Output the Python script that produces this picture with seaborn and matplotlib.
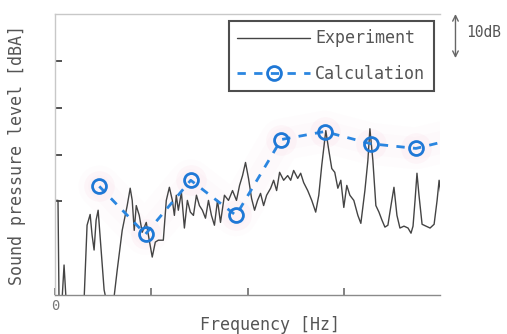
import matplotlib
matplotlib.use("Agg")
import matplotlib.pyplot as plt
import seaborn as sns
import pandas as pd

# Measured spectrum (frequency in Hz, level in dB)
exp_freq = [0, 3.1, 4.2, 7.3, 9.4, 11.5, 30.2, 33.3, 36.5, 38.5, 40.6, 42.7, 44.8, 47.9,
            51.0, 54.2, 60.4, 64.6, 69.8, 75.0, 78.1, 80.2, 82.3, 84.4, 87.5, 90.6, 94.8,
            97.9, 101.0, 104.2, 107.3, 112.5, 115.6, 118.8, 121.9, 124.0, 126.0, 128.1,
            131.3, 134.4, 137.5, 140.6, 143.8, 146.9, 150.0, 153.1, 156.3, 159.4, 162.5,
            165.6, 168.8, 171.9, 176.0, 180.2, 184.4, 188.5, 191.7, 194.8, 197.9, 201.0,
            204.2, 207.3, 210.4, 213.5, 216.7, 219.8, 224.0, 227.1, 230.2, 233.3, 237.5,
            241.7, 244.8, 247.9, 252.1, 255.2, 258.3, 262.5, 266.7, 270.8, 274.0, 277.1,
            281.3, 284.4, 287.5, 290.6, 293.8, 296.9, 300.0, 303.1, 306.3, 310.4, 314.6,
            317.7, 321.9, 325.0, 327.1, 330.2, 333.3, 336.5, 339.6, 342.7, 345.8, 349.0,
            352.1, 355.2, 358.3, 362.5, 366.7, 369.8, 371.9, 374.0, 376.0, 378.1, 381.3,
            385.4, 389.6, 393.8, 396.9, 399.0, 401.0]
exp_level = [20.2, 20.2, -2, -1.1, 6.4, -1.1, -1.1, 14.9, 17.2, 12.8, 9.6, 16.0, 18.1, 9.6,
             1.1, -2.1, -2.1, 5.3, 13.8, 19.1, 22.8, 20.2, 13.8, 19.1, 17.0, 13.4, 15.5,
             11.7, 8.1, 11.3, 11.7, 11.7, 20.2, 23.0, 20.2, 17.0, 21.3, 18.1,
             21.9, 14.3, 20.2, 17.7, 17.0, 21.3, 19.1, 18.1, 16.4, 20.2, 17.0,
             14.9, 20.2, 15.5, 21.3, 20.2, 22.3, 20.2, 23.4, 25.5, 28.3, 24.9,
             20.6, 18.1, 20.2, 21.7, 19.1, 21.3, 22.8, 24.5, 22.3, 26.2, 24.5,
             25.5, 24.5, 26.6, 24.9, 26.0, 24.0, 22.3, 20.2, 17.7, 21.3, 27.7,
             35.1, 30.9, 27.0, 26.2, 22.8, 24.5, 18.7, 23.4, 21.3, 20.2, 17.0,
             15.3, 22.3, 28.7, 35.5, 28.7, 19.1, 17.7, 16.0, 14.5, 14.9, 19.1,
             23.0, 17.0, 14.3, 14.7, 14.3, 13.2, 14.7, 20.2, 26.0, 21.3, 15.1,
             14.7, 14.3, 15.1, 20.2, 24.5, 21.3]

# Calculated levels; the last entry continues the trend line to the frequency limit
calc_freq = [46, 94, 141, 188, 235, 280, 328, 375, 401]
calc_level = [23.2, 13.0, 24.5, 17.0, 33.2, 34.9, 32.3, 31.3, 32.6]

x_ticks = [0, 100, 200, 300]
x_ticklabels = ["0", "", "", ""]
y_ticks = [20, 30, 40, 50]

sns.set_style("white")
plt.rcParams["font.family"] = ["DejaVu Sans Mono", "DejaVu Sans"]

fig = plt.figure(figsize=(5.07, 3.34), dpi=100)
ax = fig.add_axes([0.1085, 0.1168, 0.7595, 0.8412])

exp_df = pd.DataFrame({"freq": exp_freq, "level": exp_level})
calc_df = pd.DataFrame({"freq": calc_freq, "level": calc_level})

blue = "#2b86e0"
pink = "#f7b8d2"

# faint pink halo behind the calculated curve
for lw, a in [(30, 0.035), (16, 0.045)]:
    sns.lineplot(data=calc_df, x="freq", y="level", ax=ax, color=pink, lw=lw,
                 alpha=a, sort=False, legend=False, solid_capstyle="round")
ax.plot(calc_freq[:8], calc_level[:8], "o", ms=22, color=pink, alpha=0.10, mew=0)

sns.lineplot(data=exp_df, x="freq", y="level", ax=ax, color="#444444", lw=1.0,
             sort=False, label="Experiment")
sns.lineplot(data=calc_df, x="freq", y="level", ax=ax, color=blue, lw=2.0,
             sort=False, label="Calculation", marker="o", markersize=10,
             markerfacecolor="none", markeredgecolor="#1f78d6", markeredgewidth=2.0,
             markevery=list(range(8)))
ax.lines[-1].set_dashes([3, 3])

ax.set_xlim(0, 400)
ax.set_ylim(0, 60)
ax.set_xticks(x_ticks)
ax.set_xticklabels(x_ticklabels, color="#666666", fontsize=10)
ax.set_yticks(y_ticks)
ax.set_yticklabels([])
ax.tick_params(axis="both", which="major", direction="in", length=5, width=1.3,
               bottom=True, left=True, top=False, right=False, pad=3)
ax.tick_params(axis="y", colors="#444444")
ax.tick_params(axis="x", colors="#777777")

for side in ["top", "left"]:
    ax.spines[side].set_color("#c8c8c8")
    ax.spines[side].set_linewidth(1.0)
ax.spines["bottom"].set_color("#8a8a8a")
ax.spines["bottom"].set_linewidth(1.0)
ax.spines["right"].set_visible(False)

ax.set_xlabel("Frequency [Hz]", fontsize=12, color="#555555")
ax.xaxis.set_label_coords(0.558, -0.074)
ax.set_ylabel("Sound pressure level [dBA]", fontsize=12, color="#555555", labelpad=18)

leg = ax.legend(loc="upper right", bbox_to_anchor=(0.983, 0.975), frameon=True,
                fancybox=False, fontsize=12, handlelength=4.4, borderpad=0.5,
                labelspacing=1.05, handletextpad=0.3, borderaxespad=0)
leg.get_frame().set_edgecolor("#222222")
leg.get_frame().set_linewidth(1.5)
for t in leg.get_texts():
    t.set_color("#555555")

# 10 dB scale bar beside the plot
ax.annotate("", xy=(416, 50.6), xytext=(416, 60), xycoords="data",
            arrowprops=dict(arrowstyle="<->", color="#666666", lw=1.0,
                            shrinkA=0, shrinkB=0), annotation_clip=False)
ax.text(427, 56.0, "10dB", fontsize=10.5, color="#555555", va="center", ha="left",
        clip_on=False)

fig.savefig("out.png", dpi=100)
